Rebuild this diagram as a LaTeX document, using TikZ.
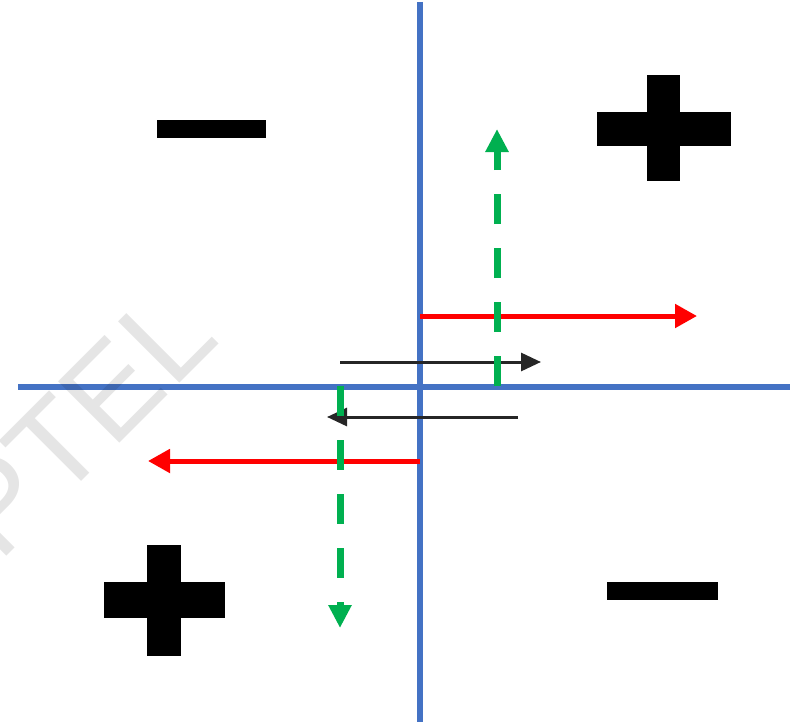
\documentclass[tikz,border=0pt]{standalone}
\usepackage{fontspec}
\setmainfont{Liberation Sans}
\usetikzlibrary{arrows.meta}
\definecolor{axisblue}{HTML}{4472C4}
\definecolor{fieldred}{HTML}{FF0000}
\definecolor{dashgreen}{HTML}{00B050}
\tikzset{
  axisline/.style={draw=axisblue, line width=6},
  redarrow/.style={draw=fieldred, line width=5, -{Triangle[length=22,width=23]}},
  blackarrow/.style={draw=black!85, line width=3, -{Triangle[length=20,width=18]}},
  greenarrow/.style={draw=dashgreen, line width=7, dash pattern=on 30 off 24, -{Triangle[length=23,width=22]}},
  signbar/.style={fill=black, draw=none, inner sep=0, outer sep=0, rectangle},
  watermark/.style={text=black, text opacity=0.1, inner sep=0, font=\fontsize{126}{126}\selectfont}
}
\begin{document}
\begin{tikzpicture}[x=1pt,y=-1pt]
\useasboundingbox (0,0) rectangle (790,725);
% axes
\coordinate (vtop) at (420,2);
\coordinate (vbot) at (420,722);
\coordinate (hleft) at (18,387);
\coordinate (hright) at (790,387);
\draw[axisline] (vtop) -- (vbot);
\draw[axisline] (hleft) -- (hright);
% red arrows
\coordinate (r1s) at (420,316);
\coordinate (r1e) at (697,316);
\coordinate (r2s) at (420,461);
\coordinate (r2e) at (148,461);
\draw[redarrow] (r1s) -- (r1e);
\draw[redarrow] (r2s) -- (r2e);
% black arrows
\coordinate (b1s) at (340,362);
\coordinate (b1e) at (541,362);
\coordinate (b2s) at (518,417);
\coordinate (b2e) at (327,417);
\draw[blackarrow] (b1s) -- (b1e);
\draw[blackarrow] (b2s) -- (b2e);
% green dashed arrows
\coordinate (g1s) at (497,386);
\coordinate (g1e) at (497,129);
\coordinate (g2s) at (340,386);
\coordinate (g2e) at (340,628);
\draw[greenarrow] (g1s) -- (g1e);
\draw[greenarrow] (g2s) -- (g2e);
% signs
\node[signbar, minimum width=109, minimum height=18] (minusTL) at (211.5,129) {};
\node[signbar, minimum width=111, minimum height=18] (minusBR) at (662.5,591) {};
\node[signbar, minimum width=134, minimum height=34] (plusTRh) at (664,129) {};
\node[signbar, minimum width=33, minimum height=106] (plusTRv) at (663.5,128) {};
\node[signbar, minimum width=121, minimum height=36] (plusBLh) at (164.5,600) {};
\node[signbar, minimum width=34, minimum height=111] (plusBLv) at (164,600.5) {};
% watermark
\node[watermark, rotate=45, anchor=base east] (wm) at (222,341) {NPTEL};
\end{tikzpicture}
\end{document}
